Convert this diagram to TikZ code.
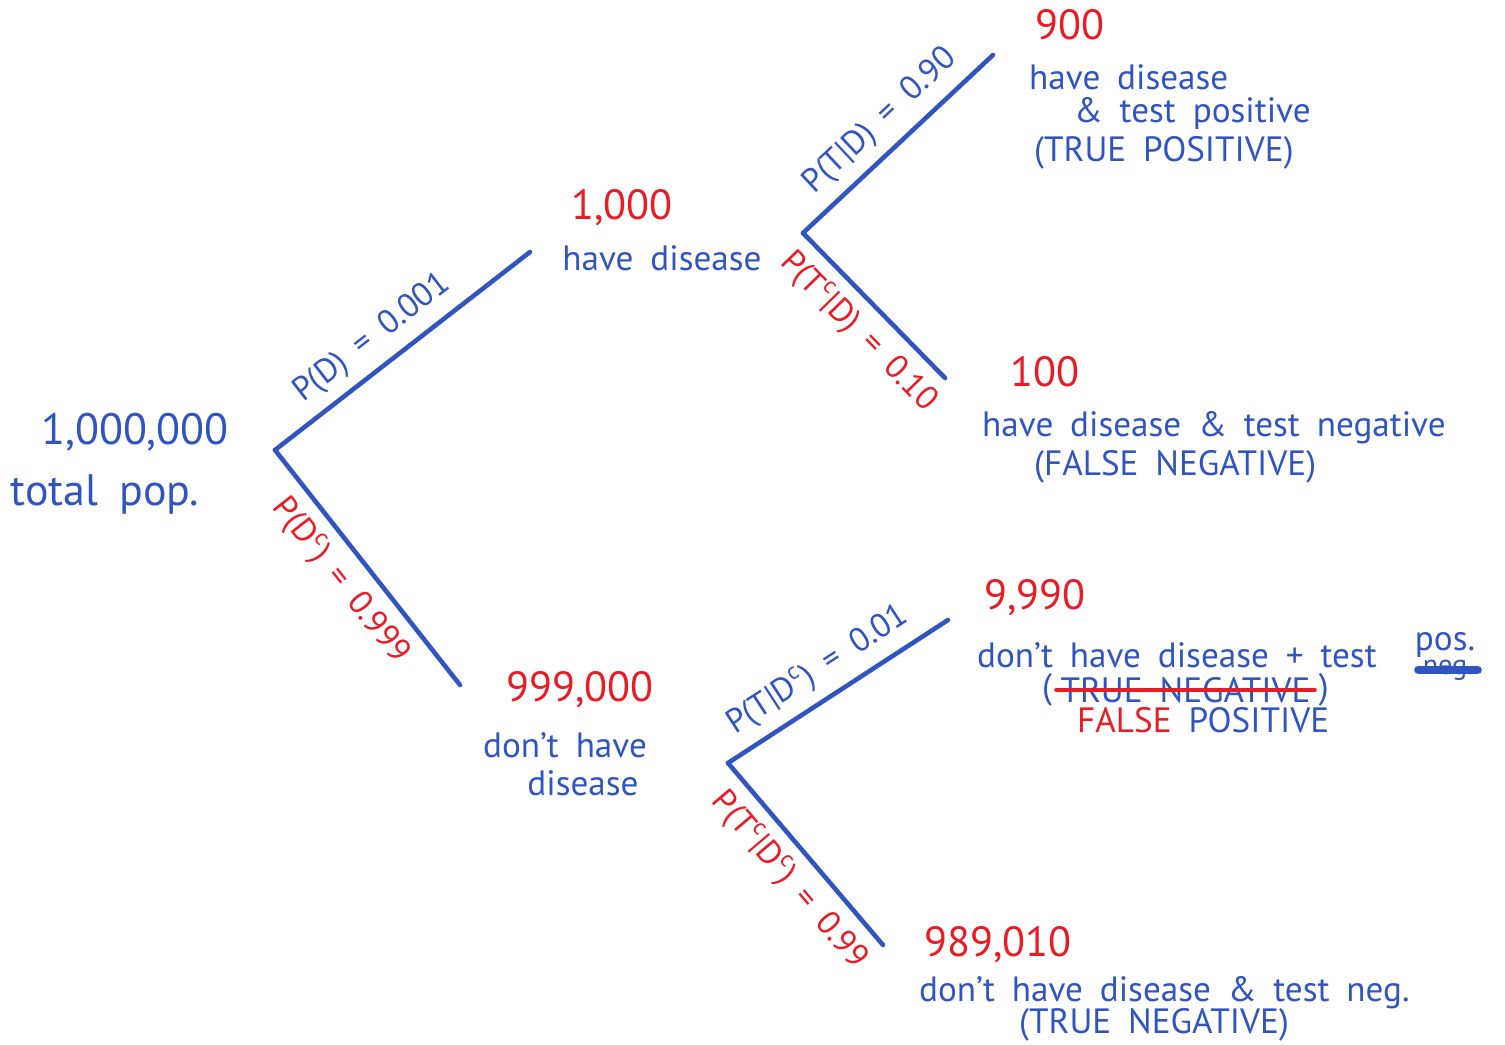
\documentclass[tikz,border=0pt]{standalone}
\usepackage{fontspec}
\setmainfont{PT Sans}[WordSpace=1.8]
\usetikzlibrary{positioning}
\definecolor{penblue}{RGB}{48,84,192}
\definecolor{penred}{RGB}{232,28,36}

\begin{document}
\begin{tikzpicture}[x=0.01cm, y=-0.01cm,
    branch/.style={draw=penblue, line width=1.3pt, line cap=round},
    num/.style={text=penred, font=\fontsize{12}{14}\selectfont, inner sep=1pt},
    desc/.style={text=penblue, font=\fontsize{10}{12}\selectfont, inner sep=1pt},
    prob/.style={text=penblue, font=\fontsize{9.5}{11}\selectfont, sloped, inner sep=3pt},
    probc/.style={prob, text=penred},
    strike/.style={line width=#1, line cap=round}
]
    \useasboundingbox (0,0) rectangle (1505,1045);

    \coordinate (root) at (275,450);
    \coordinate (dis) at (530,252);
    \coordinate (nodis) at (460,685);
    \coordinate (splitD) at (803,233);
    \coordinate (splitN) at (728,763);
    \coordinate (tp) at (993,55);
    \coordinate (fn) at (945,378);
    \coordinate (fp) at (948,620);
    \coordinate (tn) at (883,945);

    \node[desc, font=\fontsize{12.5}{15}\selectfont] (total) at (135,432) {1,000,000};
    \node[desc, font=\fontsize{12.5}{14}\selectfont] (totlbl) at (105,495) {total pop.};

    \node[num] (ndis) at (622,208) {1,000};
    \node[desc] (ldis) at (662,258) {have disease};
    \node[num] (nnodis) at (580,690) {999,000};
    \node[desc] (lnodis) at (565,745) {don't have};
    \node[desc] (lnodis2) at (583,783) {disease};

    \node[num] (ntp) at (1070,25) {900};
    \node[desc, anchor=west] (ltp) at (1025,77) {have disease};
    \node[desc, anchor=west] (ltp2) at (1070,113) {\& test positive};
    \node[desc, anchor=west] (ltp3) at (1030,153) {(TRUE POSITIVE)};

    \node[num] (nfn) at (1045,372) {100};
    \node[desc, anchor=west] (lfn) at (978,428) {have disease \& test negative};
    \node[desc, anchor=west] (lfn2) at (1030,467) {(FALSE NEGATIVE)};

    \node[num] (nfp) at (1035,598) {9,990};
    \node[desc, anchor=west] (lfp) at (973,655) {don't have disease + test};
    \node[desc] (pos) at (1445,645) {pos.};
    \node[desc, font=\fontsize{8}{9}\selectfont] (neg) at (1448,670) {neg.};
    \node[desc, anchor=west] (popen) at (1038,690) {(};
    \node[desc, right=0pt of popen] (struck) {TRUE NEGATIVE};
    \node[desc, right=0pt of struck] (pclose) {)};
    \node[desc, anchor=west] (lfp3) at (1073,720) {\textcolor{penred}{FALSE} POSITIVE};

    \node[num] (ntn) at (998,945) {989,010};
    \node[desc, anchor=west] (ltn) at (915,993) {don't have disease \& test neg.};
    \node[desc, anchor=west] (ltn2) at (1015,1025) {(TRUE NEGATIVE)};

    \draw[strike=2.5pt, penblue] (neg.west) -- (neg.east);
    \draw[strike=1.2pt, penred] (struck.west) -- (struck.east);

    \draw[branch] (root) -- (dis) node[prob, pos=0.45, above] {P(D) = 0.001};
    \draw[branch] (root) -- (nodis) node[probc, pos=0.48, below] {P(D\textsuperscript{c}) = 0.999};
    \draw[branch] (splitD) -- (tp) node[prob, pos=0.51, above] {P(T|D) = 0.90};
    \draw[branch] (splitD) -- (fn) node[probc, pos=0.54, below] {P(T\textsuperscript{c}|D) = 0.10};
    \draw[branch] (splitN) -- (fp) node[prob, pos=0.48, above] {P(T|D\textsuperscript{c}) = 0.01};
    \draw[branch] (splitN) -- (tn) node[probc, pos=0.54, below] {P(T\textsuperscript{c}|D\textsuperscript{c}) = 0.99};
\end{tikzpicture}
\end{document}
